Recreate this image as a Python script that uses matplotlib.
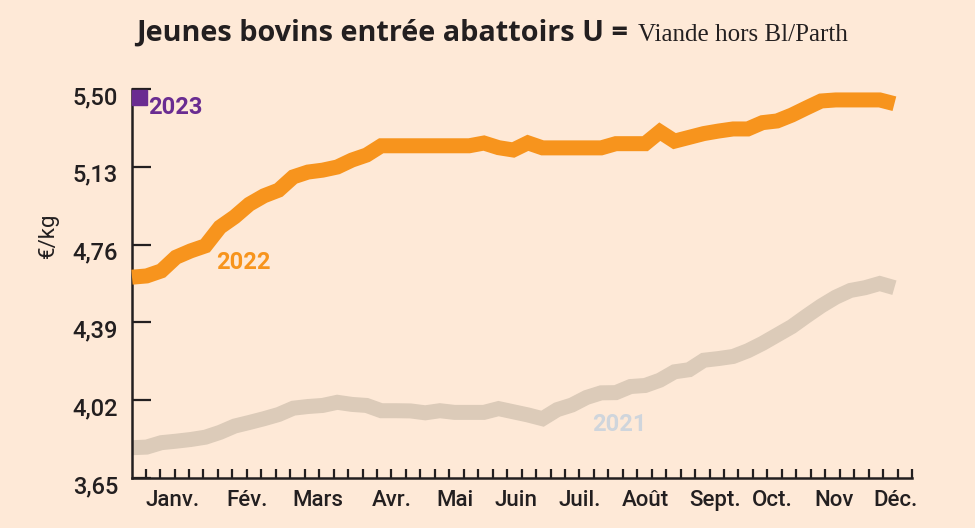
import numpy as np
import matplotlib
matplotlib.use('Agg')
import matplotlib.pyplot as plt
import matplotlib.transforms as mtransforms

# weekly prices, €/kg
weeks = np.arange(53)
prix_2022 = [4.605, 4.611, 4.635, 4.700, 4.730, 4.754, 4.843, 4.892, 4.952, 4.992,
             5.019, 5.082, 5.105, 5.114, 5.129, 5.162, 5.186, 5.230, 5.230, 5.230,
             5.230, 5.230, 5.230, 5.230, 5.243, 5.221, 5.210, 5.244, 5.220, 5.220,
             5.220, 5.220, 5.220, 5.240, 5.240, 5.240, 5.297, 5.252, 5.270, 5.288,
             5.300, 5.310, 5.310, 5.340, 5.348, 5.376, 5.410, 5.443, 5.448, 5.448,
             5.448, 5.448, 5.430]
prix_2021 = [3.794, 3.797, 3.818, 3.825, 3.833, 3.844, 3.867, 3.897, 3.914, 3.932,
             3.952, 3.982, 3.990, 3.995, 4.010, 4.000, 3.995, 3.970, 3.970, 3.969,
             3.960, 3.970, 3.962, 3.962, 3.962, 3.980, 3.965, 3.950, 3.932, 3.975,
             3.997, 4.033, 4.055, 4.056, 4.085, 4.090, 4.115, 4.155, 4.165, 4.210,
             4.218, 4.228, 4.255, 4.290, 4.330, 4.370, 4.420, 4.468, 4.510, 4.542,
             4.555, 4.575, 4.555]
weeks_2023 = [0.48]
prix_2023 = [5.462]

y_ticks = [3.65, 4.02, 4.39, 4.76, 5.13, 5.50]
mois = ['Janv.', 'Fév.', 'Mars', 'Avr.', 'Mai', 'Juin', 'Juil.', 'Août',
        'Sept.', 'Oct.', 'Nov', 'Déc.']
mois_pos = [2.75, 7.82, 12.68, 17.72, 22.02, 26.2, 30.52, 35.03, 39.74, 43.7, 47.86, 52.1]

BG = '#fee9d7'
ORANGE = '#f7941d'
BEIGE = '#dccbb9'
PURPLE = '#6a2c91'
GREY = '#cfd5dc'
INK = '#231f20'

plt.rcParams['font.family'] = ['Roboto', 'DejaVu Sans']

fig = plt.figure(figsize=(9.75, 5.28), dpi=100)
fig.patch.set_facecolor(BG)
ax = fig.add_axes([132 / 975, 50 / 528, 780 / 975, 389 / 528])
ax.set_facecolor(BG)

ax.plot(weeks, prix_2021, color=BEIGE, linewidth=10.8, solid_capstyle='butt',
        solid_joinstyle='miter', clip_on=False, zorder=2)
ax.plot(weeks, prix_2022, color=ORANGE, linewidth=10.8, solid_capstyle='butt',
        solid_joinstyle='miter', clip_on=False, zorder=3)
ax.plot(weeks_2023, prix_2023, marker='s', markersize=10.8, color=PURPLE,
        linestyle='none', clip_on=False, zorder=4)

ax.set_xlim(0, 53.2)
ax.set_ylim(3.65, 5.50)

ax.set_yticks(y_ticks)
ax.set_yticklabels([('%.2f' % v).replace('.', ',') for v in y_ticks])
ax.set_xticks(np.linspace(0.93, 53.2, 54))
ax.set_xticklabels([])

ax.tick_params(axis='y', direction='in', length=13.5, width=1.6, color=INK,
               labelsize=17, labelcolor=INK, pad=10)
ax.tick_params(axis='x', direction='in', length=6.3, width=1.6, color=INK)
shift = mtransforms.ScaledTranslation(0, -6 / 100, fig.dpi_scale_trans)
for lab in ax.get_yticklabels():
    lab.set_fontweight('medium')
    lab.set_transform(lab.get_transform() + shift)

ax.spines['top'].set_visible(False)
ax.spines['right'].set_visible(False)
for s in ('left', 'bottom'):
    ax.spines[s].set_linewidth(1.8)
    ax.spines[s].set_color(INK)

for p, m in zip(mois_pos, mois):
    ax.text(p, 3.65 - 22 / 210, m, ha='center', va='center', fontsize=16,
            fontweight='medium', color=INK)

ax.set_ylabel('€/kg', fontsize=16, color=INK)
ax.yaxis.set_label_coords(-73 / 780, 0.625)

ax.text(1.1, 5.50 - 18 / 210, '2023', color=PURPLE, fontsize=17, fontweight='bold',
        ha='left', va='center')
ax.text(5.73, 5.50 - 173 / 210, '2022', color=ORANGE, fontsize=17, fontweight='bold',
        ha='left', va='center')
ax.text(31.35, 5.50 - 335 / 210, '2021', color=GREY, fontsize=17, fontweight='bold',
        ha='left', va='center')

t1 = fig.text(136 / 975, (528 - 41) / 528, 'Jeunes bovins entrée abattoirs U =',
              fontsize=20.8, fontweight='bold', family='Open Sans', color=INK,
              ha='left', va='baseline')
fig.canvas.draw()
bb = t1.get_window_extent()
fig.text((bb.x1 + 10) / 975, (528 - 41) / 528, 'Viande hors Bl/Parth',
         fontsize=18, family='Liberation Serif', color=INK, ha='left', va='baseline')

fig.savefig('out.png', dpi=100, facecolor=fig.get_facecolor())
